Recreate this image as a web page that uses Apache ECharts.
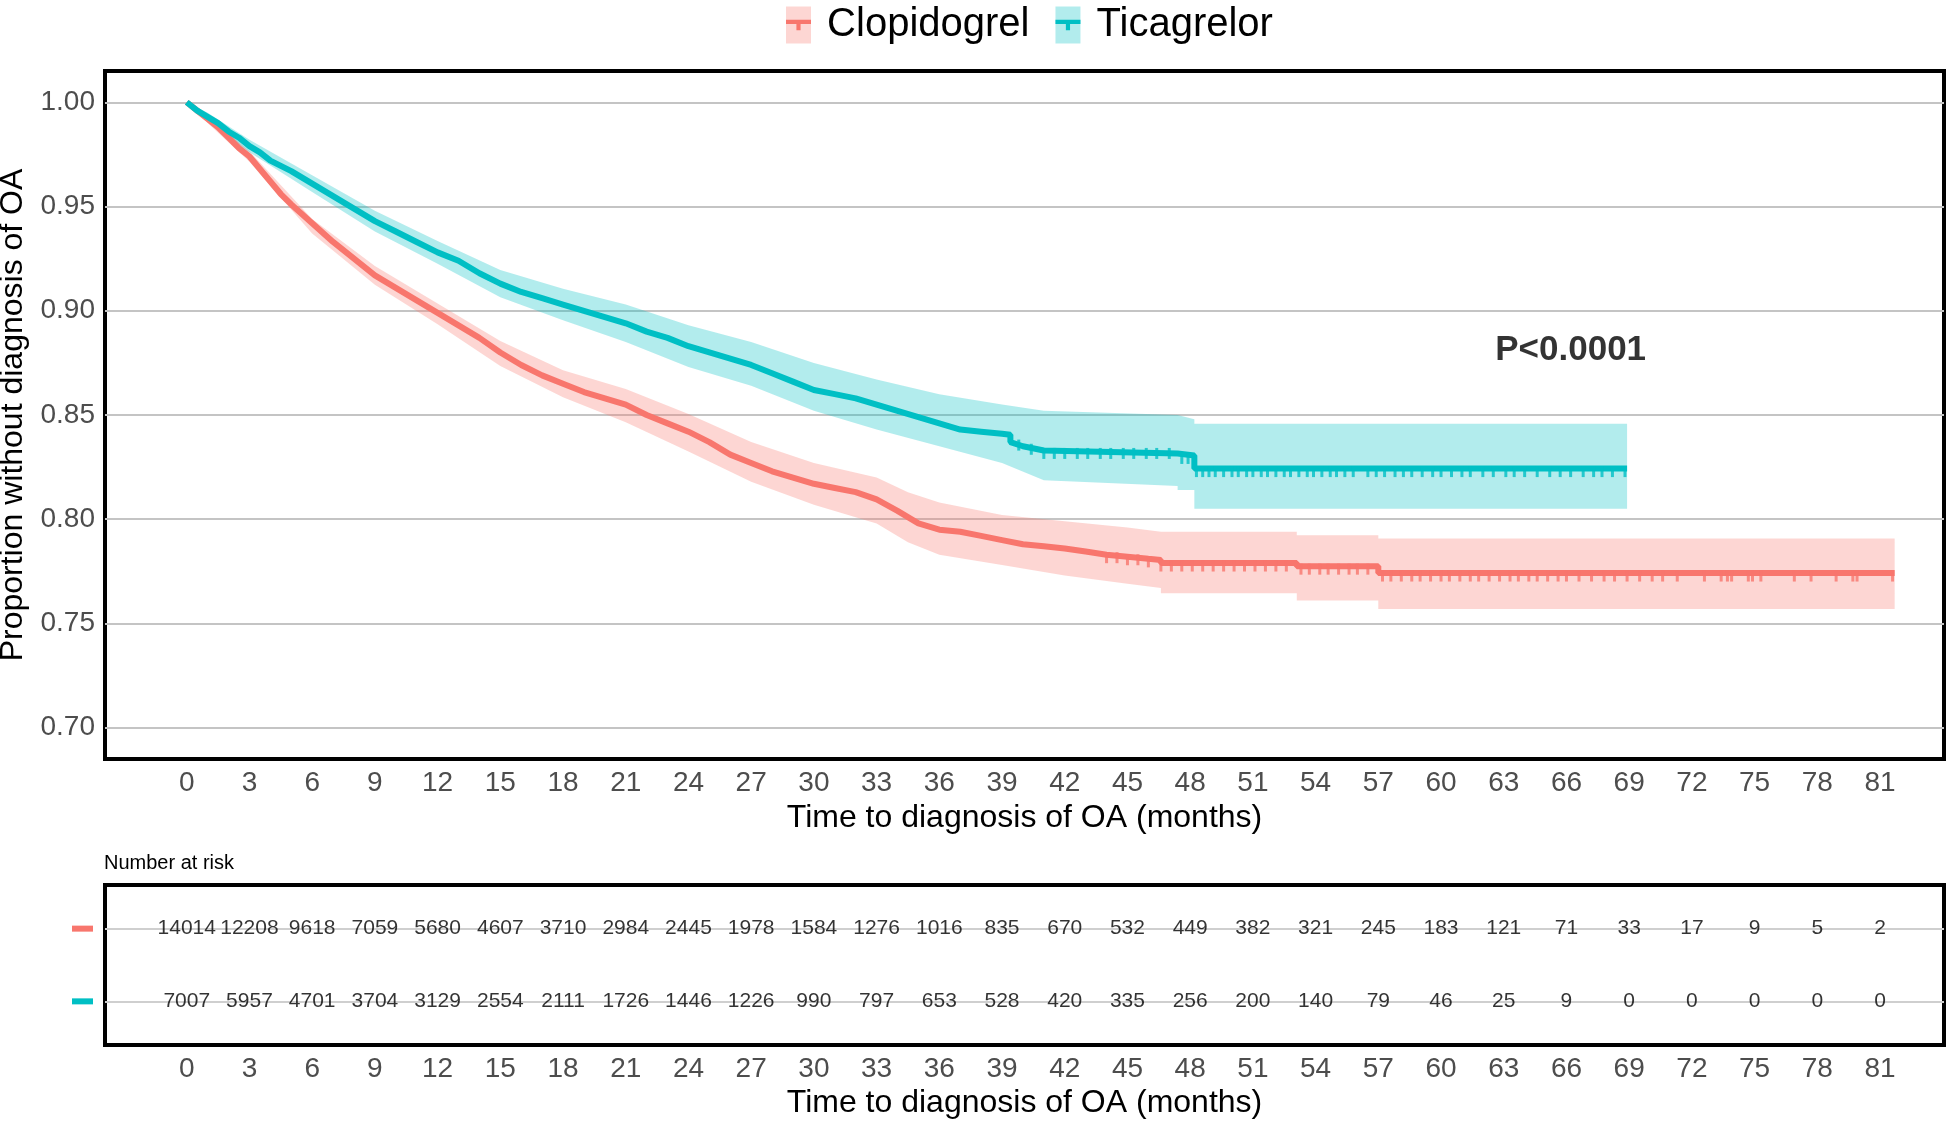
<!DOCTYPE html>
<html>
<head>
<meta charset="utf-8">
<script src="https://cdn.jsdelivr.net/npm/echarts@6/dist/echarts.min.js"></script>
<style>
html,body{margin:0;padding:0;background:#fff;}
#chart{width:1950px;height:1126px;}
</style>
</head>
<body>
<div id="chart"></div>
<script>
// ---------------- data ----------------
const GROUPS = ['Clopidogrel', 'Ticagrelor'];
const COLORS = ['#F8766D', '#00BFC4'];
const BAND_COLORS = ['rgba(248,118,109,0.3)', 'rgba(0,191,196,0.3)'];

const X_TICKS = [0,3,6,9,12,15,18,21,24,27,30,33,36,39,42,45,48,51,54,57,60,63,66,69,72,75,78,81];
const Y_TICKS = [0.70,0.75,0.80,0.85,0.90,0.95,1.00];

// Kaplan-Meier estimates (months, proportion)
const clopTime = [0,0.5,1,1.5,2,2.5,3,3.5,4,4.5,5,6,7,8,9,10,11,12,13,14,15,16,17,18,19,20,21,22,23,24,25,26,27,28,29,30,31,32,33,34,35,36,37,38,39,40,41,42,43,44,45,46,46.6,46.6,53.1,53.1,57.0,57.0,81.7];
const clopSurv = [1.000,0.996,0.992,0.988,0.983,0.978,0.974,0.968,0.962,0.956,0.951,0.942,0.933,0.925,0.917,0.911,0.905,0.899,0.893,0.887,0.880,0.874,0.869,0.865,0.861,0.858,0.855,0.850,0.846,0.842,0.837,0.831,0.827,0.823,0.820,0.817,0.815,0.813,0.8095,0.804,0.798,0.795,0.794,0.792,0.790,0.788,0.787,0.786,0.7845,0.783,0.782,0.781,0.7805,0.779,0.779,0.7775,0.7775,0.7742,0.7742];

const ticaTime = [0,0.5,1,1.5,2,2.5,3,3.5,4,5,6,7,8,9,10,11,12,13,14,15,16,17,18,19,20,21,22,23,24,25,26,27,28,29,30,31,32,33,34,35,36,37,38,39,39.4,39.4,40,41,47.4,47.4,48.2,48.2,68.9];
const ticaSurv = [1.000,0.996,0.993,0.990,0.986,0.983,0.979,0.976,0.972,0.967,0.961,0.955,0.949,0.943,0.938,0.933,0.928,0.924,0.918,0.913,0.909,0.906,0.903,0.900,0.897,0.894,0.890,0.887,0.883,0.880,0.877,0.874,0.870,0.866,0.862,0.860,0.858,0.855,0.852,0.849,0.846,0.843,0.842,0.841,0.8405,0.837,0.835,0.833,0.8315,0.8306,0.8306,0.8243,0.8243];

// 95% confidence bands
const clopBandTime  = [0,1,3,6,9,12,15,18,21,24,27,30,33,34.5,36,39,42,45,46.6,46.6,53.1,53.1,57.0,57.0,81.7];
const clopBandLower = [1,0.990,0.9715,0.937,0.9125,0.8935,0.8735,0.8585,0.8465,0.8325,0.818,0.807,0.798,0.789,0.783,0.778,0.773,0.769,0.767,0.7645,0.7645,0.761,0.761,0.757,0.757];
const clopBandUpper = [1,0.994,0.9765,0.944,0.9215,0.9035,0.8855,0.8715,0.8625,0.8505,0.837,0.827,0.820,0.813,0.808,0.802,0.799,0.796,0.794,0.794,0.794,0.7923,0.7923,0.7908,0.7908];

const ticaBandTime  = [0,1,3,6,9,12,15,18,21,24,27,30,33,36,39,41,47.4,47.4,48.2,48.2,68.9];
const ticaBandLower = [1,0.991,0.976,0.957,0.938,0.9225,0.9065,0.8955,0.885,0.873,0.864,0.852,0.843,0.835,0.827,0.8187,0.816,0.814,0.814,0.805,0.805];
const ticaBandUpper = [1,0.995,0.982,0.965,0.948,0.9335,0.9195,0.9105,0.903,0.893,0.885,0.875,0.867,0.860,0.855,0.852,0.850,0.850,0.848,0.8458,0.8458];

// censoring times (months)
const clopCensor = [44.0,44.5,45.0,45.5,46.0,46.6,47.1,47.6,48.1,48.6,49.1,49.6,50.1,50.6,51.1,51.6,52.1,52.6,53.3,53.7,54.2,54.6,55.1,55.6,56.0,56.5,57.2,57.6,58.1,58.6,59.0,59.5,60.0,60.4,60.9,61.4,61.8,62.3,62.8,63.3,63.7,64.2,64.6,65.1,65.6,66.0,66.6,67.2,67.8,68.3,68.9,69.5,70.1,70.6,71.3,72.6,73.4,73.7,73.9,74.7,74.9,75.3,76.9,77.7,78.9,79.7,79.9,81.6];
const ticaCensor = [39.8,40.4,41.0,41.5,42.0,42.6,43.1,43.7,44.2,44.8,45.3,45.9,46.4,47.0,47.6,47.9,48.3,48.6,48.9,49.2,49.6,50.0,50.3,50.7,51.0,51.4,51.7,52.1,52.5,52.8,53.2,53.6,53.9,54.3,54.7,55.0,55.4,55.8,56.5,56.9,57.3,57.8,58.2,58.6,59.1,59.6,60.0,60.5,61.0,61.4,62.0,62.5,63.1,63.5,64.0,64.6,65.2,65.7,66.2,66.8,67.3,67.7,68.2,68.8];

// number at risk
const riskTimes = X_TICKS;
const riskClop = [14014,12208,9618,7059,5680,4607,3710,2984,2445,1978,1584,1276,1016,835,670,532,449,382,321,245,183,121,71,33,17,9,5,2];
const riskTica = [7007,5957,4701,3704,3129,2554,2111,1726,1446,1226,990,797,653,528,420,335,256,200,140,79,46,25,9,0,0,0,0,0];

const pText = 'P<0.0001';
const pPos = [66.2, 0.881];

// ---------------- helpers ----------------
const FONT = "'Liberation Sans', Arial, sans-serif";
function pairs(t, v) { return t.map((x, i) => [x, v[i]]); }
function survAt(t, v, x) {
  let val = v[0];
  for (let i = 0; i < t.length; i++) { if (t[i] <= x) val = v[i]; }
  return val;
}
function bandSeries(name, t, lo, hi, color) {
  return {
    name: name, type: 'custom', xAxisIndex: 0, yAxisIndex: 0, z: 1,
    data: [[t[0], hi[0]]], silent: true,
    renderItem: function (params, api) {
      const pts = [];
      for (let i = 0; i < t.length; i++) pts.push(api.coord([t[i], hi[i]]));
      for (let i = t.length - 1; i >= 0; i--) pts.push(api.coord([t[i], lo[i]]));
      return { type: 'polygon', shape: { points: pts }, style: { fill: color, stroke: null } };
    }
  };
}
function censorSeries(name, times, t, v, color) {
  return {
    name: name, type: 'scatter', xAxisIndex: 0, yAxisIndex: 0, z: 4, silent: true,
    symbol: 'rect', symbolSize: [3, 11], symbolOffset: [0, 3],
    itemStyle: { color: color },
    data: times.map(x => [x, survAt(t, v, x)])
  };
}

const legendIconLine = 'path://M0,0h24v4h-24zM10,0h4v10h-4z';

const option = {
  animation: false,
  backgroundColor: '#ffffff',
  textStyle: { fontFamily: FONT },
  title: {
    text: 'Number at risk', left: 104, top: 853, padding: 0,
    textStyle: { fontSize: 20, fontWeight: 'normal', color: '#000', fontFamily: FONT }
  },
  legend: [
    {
      left: 786, top: 5, padding: 0, itemGap: 26, itemWidth: 25, itemHeight: 37,
      formatter: ' {name}', selectedMode: false,
      textStyle: { fontSize: 40, color: '#000', fontFamily: FONT },
      data: [
        { name: GROUPS[0], icon: 'rect', itemStyle: { color: BAND_COLORS[0] } },
        { name: GROUPS[1], icon: 'rect', itemStyle: { color: BAND_COLORS[1] } }
      ]
    },
    {
      left: 786, top: 5, padding: 0, itemGap: 26, itemWidth: 25, itemHeight: 37,
      formatter: ' {name}', selectedMode: false,
      textStyle: { fontSize: 40, color: 'rgba(0,0,0,0)', fontFamily: FONT },
      data: [
        { name: GROUPS[0], icon: legendIconLine, itemStyle: { color: COLORS[0] } },
        { name: GROUPS[1], icon: legendIconLine, itemStyle: { color: COLORS[1] } }
      ]
    }
  ],
  grid: [
    { left: 105, top: 71, right: 6, bottom: 367, show: true, borderColor: '#000', borderWidth: 4,
      backgroundColor: 'rgba(0,0,0,0)', containLabel: false, outerBoundsMode: 'none' },
    { left: 105, top: 885, right: 6, bottom: 81, show: true, borderColor: '#000', borderWidth: 4,
      backgroundColor: 'rgba(0,0,0,0)', containLabel: false, outerBoundsMode: 'none' }
  ],
  xAxis: [
    {
      gridIndex: 0, type: 'value', min: -3.91, max: 84.06,
      axisLine: { show: false }, axisTick: { show: false, customValues: X_TICKS },
      splitLine: { show: false },
      axisLabel: { customValues: X_TICKS, fontSize: 28, color: '#4d4d4d', margin: 10, fontFamily: FONT },
      name: 'Time to diagnosis of OA (months)', nameLocation: 'middle', nameGap: 42,
      nameTextStyle: { fontSize: 32, color: '#000', fontFamily: FONT }
    },
    {
      gridIndex: 1, type: 'value', min: -3.91, max: 84.06,
      axisLine: { show: false }, axisTick: { show: false, customValues: X_TICKS },
      splitLine: { show: false },
      axisLabel: { customValues: X_TICKS, fontSize: 28, color: '#4d4d4d', margin: 10, fontFamily: FONT },
      name: 'Time to diagnosis of OA (months)', nameLocation: 'middle', nameGap: 42,
      nameTextStyle: { fontSize: 32, color: '#000', fontFamily: FONT }
    }
  ],
  yAxis: [
    {
      gridIndex: 0, type: 'value', min: 0.685, max: 1.015,
      axisLine: { show: false }, axisTick: { show: false, customValues: Y_TICKS },
      axisLabel: { customValues: Y_TICKS, formatter: v => v.toFixed(2), fontSize: 28, color: '#4d4d4d', margin: 10, fontFamily: FONT },
      splitLine: { show: true, lineStyle: { color: '#c4c4c4', width: 2 } },
      name: 'Proportion without diagnosis of OA', nameLocation: 'middle', nameGap: 67,
      nameTextStyle: { fontSize: 32, color: '#000', fontFamily: FONT }
    },
    {
      gridIndex: 1, type: 'value', min: 0.4, max: 2.6,
      axisLine: { show: false }, axisTick: { show: false, customValues: [1, 2] },
      axisLabel: {
        customValues: [1, 2], margin: 12,
        formatter: v => (v === 2 ? '{r| }' : '{t| }'),
        rich: {
          r: { backgroundColor: COLORS[0], width: 21, height: 6, fontSize: 1 },
          t: { backgroundColor: COLORS[1], width: 21, height: 6, fontSize: 1 }
        }
      },
      splitLine: { show: true, lineStyle: { color: '#cfcfcf', width: 2 } }
    }
  ],
  series: [
    bandSeries('Clopidogrel CI', clopBandTime, clopBandLower, clopBandUpper, BAND_COLORS[0]),
    bandSeries('Ticagrelor CI', ticaBandTime, ticaBandLower, ticaBandUpper, BAND_COLORS[1]),
    {
      name: GROUPS[0], type: 'line', xAxisIndex: 0, yAxisIndex: 0, z: 3,
      data: pairs(clopTime, clopSurv), showSymbol: false, symbol: 'none',
      color: COLORS[0], lineStyle: { color: COLORS[0], width: 6 }
    },
    {
      name: GROUPS[1], type: 'line', xAxisIndex: 0, yAxisIndex: 0, z: 3,
      data: pairs(ticaTime, ticaSurv), showSymbol: false, symbol: 'none',
      color: COLORS[1], lineStyle: { color: COLORS[1], width: 6 }
    },
    censorSeries('Clopidogrel censored', clopCensor, clopTime, clopSurv, COLORS[0]),
    censorSeries('Ticagrelor censored', ticaCensor, ticaTime, ticaSurv, COLORS[1]),
    {
      name: 'p-value', type: 'scatter', xAxisIndex: 0, yAxisIndex: 0, z: 5, silent: true,
      symbolSize: 0, data: [pPos],
      label: { show: true, position: 'inside', formatter: pText, fontSize: 35, fontWeight: 'bold', color: '#000', fontFamily: FONT }
    },
    {
      name: 'risk Clopidogrel', type: 'scatter', xAxisIndex: 1, yAxisIndex: 1, silent: true,
      symbolSize: 0, data: riskTimes.map((t, i) => [t, 2, riskClop[i]]),
      label: { show: true, position: 'inside', formatter: p => String(p.value[2]), fontSize: 21, color: '#000', fontFamily: FONT }
    },
    {
      name: 'risk Ticagrelor', type: 'scatter', xAxisIndex: 1, yAxisIndex: 1, silent: true,
      symbolSize: 0, data: riskTimes.map((t, i) => [t, 1, riskTica[i]]),
      label: { show: true, position: 'inside', formatter: p => String(p.value[2]), fontSize: 21, color: '#000', fontFamily: FONT }
    }
  ]
};

const chart = echarts.init(document.getElementById('chart'), null, { renderer: 'canvas' });
chart.setOption(option);
</script>
</body>
</html>
